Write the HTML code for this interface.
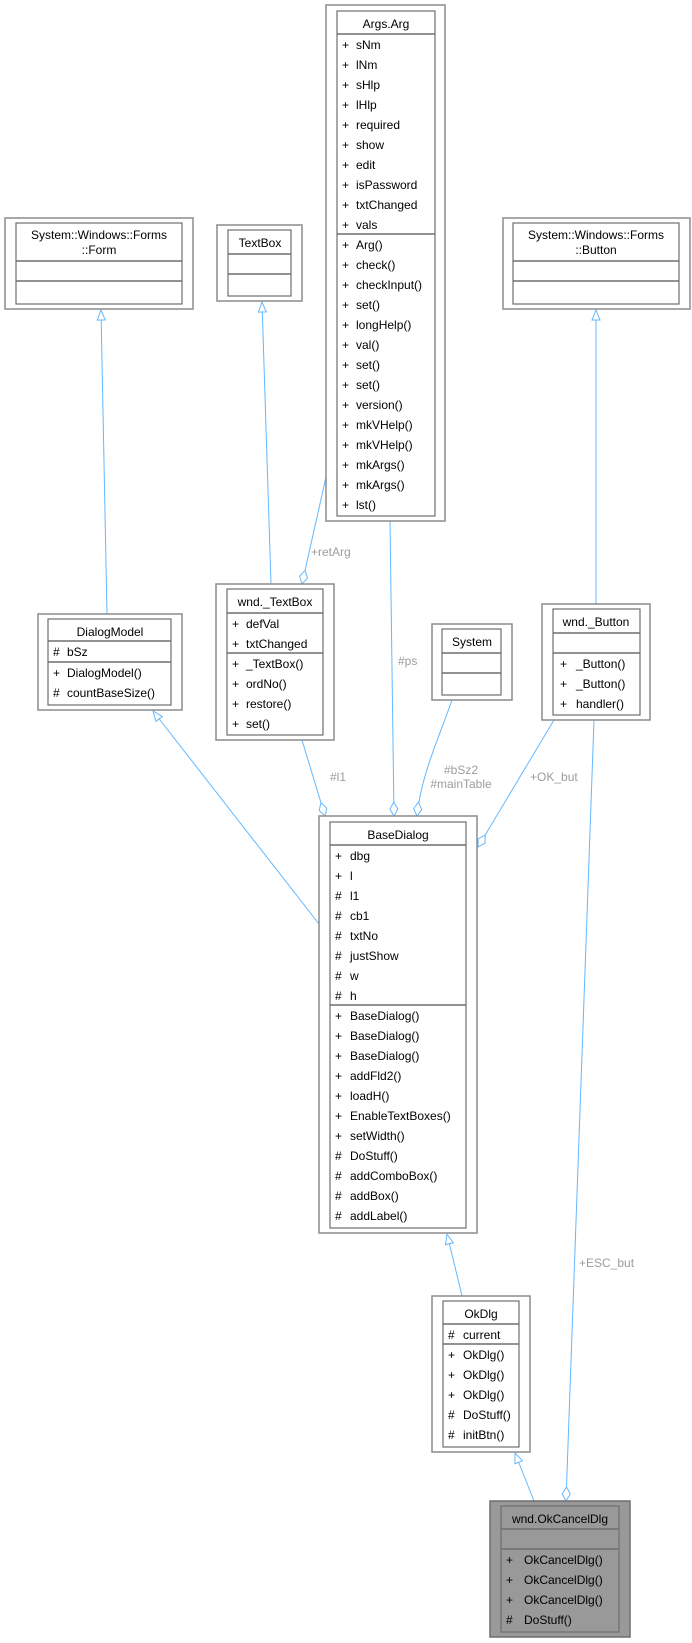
<!DOCTYPE html>
<html><head><meta charset="utf-8"><style>
html,body{margin:0;padding:0;background:#fff;width:692px;height:1643px;overflow:hidden}
svg text{font-family:"Liberation Sans",sans-serif;font-size:12px;fill:#000}
.o{fill:#fff;stroke:#8c8c8c;stroke-width:1.5}
.i{fill:#fff;stroke:#6e6e6e;stroke-width:1.2}
.s{stroke:#6e6e6e;stroke-width:1.5}
.e{stroke:#63b8ff;stroke-width:1;fill:none}
.l{fill:#9c9c9c !important}
</style></head><body>
<svg width="692" height="1643" xmlns="http://www.w3.org/2000/svg">
<defs>
<marker id="tri" markerUnits="userSpaceOnUse" markerWidth="12" markerHeight="10" refX="11" refY="5" orient="auto"><path d="M1,1 L11,5 L1,9 z" fill="#fff" stroke="#63b8ff" stroke-width="1"/></marker>
<marker id="dia" markerUnits="userSpaceOnUse" markerWidth="16" markerHeight="10" refX="15" refY="5" orient="auto"><path d="M1,5 L8,1 L15,5 L8,9 z" fill="#fff" stroke="#63b8ff" stroke-width="1"/></marker>
</defs>

<!-- edges -->
<line class="e" x1="107" y1="614" x2="101" y2="310" marker-end="url(#tri)"/>
<line class="e" x1="271" y1="584" x2="262" y2="302" marker-end="url(#tri)"/>
<line class="e" x1="596" y1="604" x2="596" y2="310" marker-end="url(#tri)"/>
<line class="e" x1="326" y1="477" x2="302" y2="584" marker-end="url(#dia)"/>
<line class="e" x1="390" y1="521" x2="394" y2="816" marker-end="url(#dia)"/>
<line class="e" x1="319" y1="924" x2="153" y2="711" marker-end="url(#tri)"/>
<line class="e" x1="302" y1="740" x2="325" y2="816" marker-end="url(#dia)"/>
<path class="e" d="M452,700 C440,735 421,775 417,816" marker-end="url(#dia)"/>
<line class="e" x1="554" y1="720" x2="478" y2="847" marker-end="url(#dia)"/>
<line class="e" x1="594" y1="720" x2="566" y2="1501" marker-end="url(#dia)"/>
<line class="e" x1="462" y1="1296" x2="447" y2="1234" marker-end="url(#tri)"/>
<line class="e" x1="534" y1="1501" x2="515" y2="1453" marker-end="url(#tri)"/>

<text class="l" x="311" y="556">+retArg</text>
<text class="l" x="398" y="665">#ps</text>
<text class="l" x="330" y="781">#l1</text>
<text class="l" x="461" y="774" text-anchor="middle">#bSz2</text>
<text class="l" x="461" y="788" text-anchor="middle">#mainTable</text>
<text class="l" x="530" y="781">+OK_but</text>
<text class="l" x="579" y="1267">+ESC_but</text>

<!-- Args.Arg -->
<rect class="o" x="326" y="5" width="119" height="516"/>
<rect class="i" x="337" y="11" width="98" height="505"/>
<line class="s" x1="337" y1="34" x2="435" y2="34"/><line class="s" x1="337" y1="234" x2="435" y2="234"/>
<text x="386" y="28" text-anchor="middle">Args.Arg</text>
<g>
<text x="342" y="49">+</text><text x="356" y="49">sNm</text>
<text x="342" y="69">+</text><text x="356" y="69">lNm</text>
<text x="342" y="89">+</text><text x="356" y="89">sHlp</text>
<text x="342" y="109">+</text><text x="356" y="109">lHlp</text>
<text x="342" y="129">+</text><text x="356" y="129">required</text>
<text x="342" y="149">+</text><text x="356" y="149">show</text>
<text x="342" y="169">+</text><text x="356" y="169">edit</text>
<text x="342" y="189">+</text><text x="356" y="189">isPassword</text>
<text x="342" y="209">+</text><text x="356" y="209">txtChanged</text>
<text x="342" y="229">+</text><text x="356" y="229">vals</text>
<text x="342" y="249">+</text><text x="356" y="249">Arg()</text>
<text x="342" y="269">+</text><text x="356" y="269">check()</text>
<text x="342" y="289">+</text><text x="356" y="289">checkInput()</text>
<text x="342" y="309">+</text><text x="356" y="309">set()</text>
<text x="342" y="329">+</text><text x="356" y="329">longHelp()</text>
<text x="342" y="349">+</text><text x="356" y="349">val()</text>
<text x="342" y="369">+</text><text x="356" y="369">set()</text>
<text x="342" y="389">+</text><text x="356" y="389">set()</text>
<text x="342" y="409">+</text><text x="356" y="409">version()</text>
<text x="342" y="429">+</text><text x="356" y="429">mkVHelp()</text>
<text x="342" y="449">+</text><text x="356" y="449">mkVHelp()</text>
<text x="342" y="469">+</text><text x="356" y="469">mkArgs()</text>
<text x="342" y="489">+</text><text x="356" y="489">mkArgs()</text>
<text x="342" y="509">+</text><text x="356" y="509">lst()</text>
</g>

<!-- Form -->
<rect class="o" x="5" y="218" width="188" height="91"/>
<rect class="i" x="16" y="223" width="166" height="81"/>
<line class="s" x1="16" y1="261" x2="182" y2="261"/><line class="s" x1="16" y1="281" x2="182" y2="281"/>
<text x="99" y="239" text-anchor="middle">System::Windows::Forms</text>
<text x="99" y="254" text-anchor="middle">::Form</text>

<!-- TextBox -->
<rect class="o" x="217" y="225" width="85" height="76"/>
<rect class="i" x="228" y="230" width="63" height="66"/>
<line class="s" x1="228" y1="254" x2="291" y2="254"/><line class="s" x1="228" y1="274" x2="291" y2="274"/>
<text x="260" y="247" text-anchor="middle">TextBox</text>

<!-- Button -->
<rect class="o" x="503" y="218" width="187" height="91"/>
<rect class="i" x="513" y="223" width="166" height="81"/>
<line class="s" x1="513" y1="261" x2="679" y2="261"/><line class="s" x1="513" y1="281" x2="679" y2="281"/>
<text x="596" y="239" text-anchor="middle">System::Windows::Forms</text>
<text x="596" y="254" text-anchor="middle">::Button</text>

<!-- DialogModel -->
<rect class="o" x="38" y="614" width="144" height="96"/>
<rect class="i" x="48" y="619" width="123" height="86"/>
<line class="s" x1="48" y1="641" x2="171" y2="641"/><line class="s" x1="48" y1="662" x2="171" y2="662"/>
<text x="110" y="636" text-anchor="middle">DialogModel</text>
<text x="53" y="656">#</text><text x="67" y="656">bSz</text>
<text x="53" y="677">+</text><text x="67" y="677">DialogModel()</text>
<text x="53" y="697">#</text><text x="67" y="697">countBaseSize()</text>

<!-- wnd._TextBox -->
<rect class="o" x="216" y="584" width="118" height="156"/>
<rect class="i" x="227" y="589" width="96" height="146"/>
<line class="s" x1="227" y1="613" x2="323" y2="613"/><line class="s" x1="227" y1="653" x2="323" y2="653"/>
<text x="275" y="606" text-anchor="middle">wnd._TextBox</text>
<text x="232" y="628">+</text><text x="246" y="628">defVal</text>
<text x="232" y="648">+</text><text x="246" y="648">txtChanged</text>
<text x="232" y="668">+</text><text x="246" y="668">_TextBox()</text>
<text x="232" y="688">+</text><text x="246" y="688">ordNo()</text>
<text x="232" y="708">+</text><text x="246" y="708">restore()</text>
<text x="232" y="728">+</text><text x="246" y="728">set()</text>

<!-- System -->
<rect class="o" x="432" y="624" width="80" height="76"/>
<rect class="i" x="442" y="629" width="59" height="66"/>
<line class="s" x1="442" y1="653" x2="501" y2="653"/><line class="s" x1="442" y1="673" x2="501" y2="673"/>
<text x="472" y="646" text-anchor="middle">System</text>

<!-- wnd._Button -->
<rect class="o" x="542" y="604" width="108" height="116"/>
<rect class="i" x="553" y="609" width="87" height="106"/>
<line class="s" x1="553" y1="633" x2="640" y2="633"/><line class="s" x1="553" y1="653" x2="640" y2="653"/>
<text x="596" y="626" text-anchor="middle">wnd._Button</text>
<text x="560" y="668">+</text><text x="576" y="668">_Button()</text>
<text x="560" y="688">+</text><text x="576" y="688">_Button()</text>
<text x="560" y="708">+</text><text x="576" y="708">handler()</text>

<!-- BaseDialog -->
<rect class="o" x="319" y="816" width="158" height="417"/>
<rect class="i" x="330" y="822" width="136" height="406"/>
<line class="s" x1="330" y1="845" x2="466" y2="845"/><line class="s" x1="330" y1="1005" x2="466" y2="1005"/>
<text x="398" y="839" text-anchor="middle">BaseDialog</text>
<text x="335" y="860">+</text><text x="350" y="860">dbg</text>
<text x="335" y="880">+</text><text x="350" y="880">l</text>
<text x="335" y="900">#</text><text x="350" y="900">l1</text>
<text x="335" y="920">#</text><text x="350" y="920">cb1</text>
<text x="335" y="940">#</text><text x="350" y="940">txtNo</text>
<text x="335" y="960">#</text><text x="350" y="960">justShow</text>
<text x="335" y="980">#</text><text x="350" y="980">w</text>
<text x="335" y="1000">#</text><text x="350" y="1000">h</text>
<text x="335" y="1020">+</text><text x="350" y="1020">BaseDialog()</text>
<text x="335" y="1040">+</text><text x="350" y="1040">BaseDialog()</text>
<text x="335" y="1060">+</text><text x="350" y="1060">BaseDialog()</text>
<text x="335" y="1080">+</text><text x="350" y="1080">addFld2()</text>
<text x="335" y="1100">+</text><text x="350" y="1100">loadH()</text>
<text x="335" y="1120">+</text><text x="350" y="1120">EnableTextBoxes()</text>
<text x="335" y="1140">+</text><text x="350" y="1140">setWidth()</text>
<text x="335" y="1160">#</text><text x="350" y="1160">DoStuff()</text>
<text x="335" y="1180">#</text><text x="350" y="1180">addComboBox()</text>
<text x="335" y="1200">#</text><text x="350" y="1200">addBox()</text>
<text x="335" y="1220">#</text><text x="350" y="1220">addLabel()</text>

<!-- OkDlg -->
<rect class="o" x="432" y="1296" width="98" height="156"/>
<rect class="i" x="443" y="1301" width="76" height="146"/>
<line class="s" x1="443" y1="1324" x2="519" y2="1324"/><line class="s" x1="443" y1="1344" x2="519" y2="1344"/>
<text x="481" y="1318" text-anchor="middle">OkDlg</text>
<text x="448" y="1339">#</text><text x="463" y="1339">current</text>
<text x="448" y="1359">+</text><text x="463" y="1359">OkDlg()</text>
<text x="448" y="1379">+</text><text x="463" y="1379">OkDlg()</text>
<text x="448" y="1399">+</text><text x="463" y="1399">OkDlg()</text>
<text x="448" y="1419">#</text><text x="463" y="1419">DoStuff()</text>
<text x="448" y="1439">#</text><text x="463" y="1439">initBtn()</text>

<!-- OkCancelDlg -->
<rect x="490" y="1501" width="140" height="136" fill="#999" stroke="#6e6e6e" stroke-width="1.5"/>
<rect x="501" y="1506" width="118" height="126" fill="#999" stroke="#6e6e6e" stroke-width="1.2"/>
<line class="s" x1="501" y1="1529" x2="619" y2="1529"/><line class="s" x1="501" y1="1549" x2="619" y2="1549"/>
<text x="560" y="1523" text-anchor="middle">wnd.OkCancelDlg</text>
<text x="506" y="1564">+</text><text x="524" y="1564">OkCancelDlg()</text>
<text x="506" y="1584">+</text><text x="524" y="1584">OkCancelDlg()</text>
<text x="506" y="1604">+</text><text x="524" y="1604">OkCancelDlg()</text>
<text x="506" y="1624">#</text><text x="524" y="1624">DoStuff()</text>
</svg>
</body></html>
